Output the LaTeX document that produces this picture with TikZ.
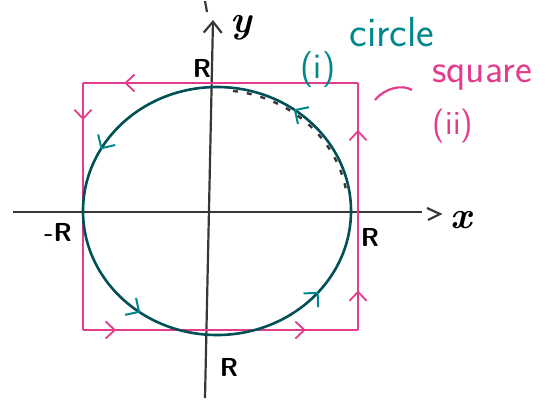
\documentclass[tikz,border=0pt]{standalone}
\usetikzlibrary{arrows.meta,decorations.markings}
\definecolor{circcol}{RGB}{0,80,85}
\definecolor{labcol}{RGB}{0,135,140}
\definecolor{sqcol}{RGB}{228,60,140}
\definecolor{axcol}{RGB}{55,55,55}
\tikzset{
  axis/.style={draw=axcol, line width=2.2pt},
  sqline/.style={draw=sqcol, line width=2.2pt},
  circline/.style={draw=circcol, line width=2.6pt},
  lbl/.style={text=black, font=\sffamily\bfseries\fontsize{26}{26}\selectfont, inner sep=0pt},
  sqmark/.style={postaction={decorate}, decoration={markings,
     mark=at position #1 with {\arrow[sqcol, line width=1.8pt]{Straight Barb[length=9pt,width=17pt]}}}}
}
\begin{document}
\begin{tikzpicture}[x=1pt,y=-1pt]
\useasboundingbox (0,0) rectangle (553,402);
% axes
\draw[axis] (13,212) -- (422,212);
\draw[axis] (427,208) -- (440,214) -- (428,220);
\draw[axis, -{Straight Barb[length=11pt,width=18pt]}] (205,398) -- (213,20);
\draw[axis] (205,1) -- (207,12);
% square
\coordinate (s1) at (358,83);
\coordinate (s2) at (83,83);
\coordinate (s3) at (83,330);
\coordinate (s4) at (358,330);
\draw[sqline, sqmark=0.85] (s1) -- (s2);
\draw[sqline, sqmark=0.15] (s2) -- (s3);
\draw[sqline, postaction={decorate}, decoration={markings,
   mark=at position 0.12 with {\arrow[sqcol, line width=1.8pt]{Straight Barb[length=9pt,width=17pt]}},
   mark=at position 0.81 with {\arrow[sqcol, line width=1.8pt]{Straight Barb[length=9pt,width=17pt]}}}] (s3) -- (s4);
\draw[sqline, postaction={decorate}, decoration={markings,
   mark=at position 0.16 with {\arrow[sqcol, line width=1.8pt]{Straight Barb[length=9pt,width=17pt]}},
   mark=at position 0.81 with {\arrow[sqcol, line width=1.8pt]{Straight Barb[length=9pt,width=17pt]}}}] (s4) -- (s1);
% circle
\coordinate (c0) at (217,211);
\draw[circline, postaction={decorate}, decoration={markings,
   mark=at position 0.15 with {\arrow[labcol, line width=2pt]{Straight Barb[length=10pt,width=20pt]}},
   mark=at position 0.42 with {\arrow[labcol, line width=2pt]{Straight Barb[length=10pt,width=20pt]}},
   mark=at position 0.65 with {\arrow[labcol, line width=2pt]{Straight Barb[length=10pt,width=20pt]}},
   mark=at position 0.89 with {\arrow[labcol, line width=2pt]{Straight Barb[length=10pt,width=20pt]}}}]
   (c0) ++(0:134 and 124) arc[start angle=0, end angle=-360, x radius=134, y radius=124];
% dashed arc
\draw[axis, line width=2.4pt, dash pattern=on 5pt off 9pt] (c0) ++(-83:131 and 121) arc[start angle=-83, end angle=-10, x radius=131, y radius=121];
% leader
\coordinate (l1) at (375,100);
\coordinate (l2) at (412,90);
\draw[sqline] (l1) .. controls (385,88) and (402,84) .. (l2);
% labels
\node[lbl] (rtop) at (202,68) {R};
\node[lbl] (rright) at (370,237) {R};
\node[lbl] (rleft) at (58,232) {-R};
\node[lbl] (rbot) at (229,367) {R};
\node[lbl, font=\itshape\bfseries\fontsize{38}{38}\selectfont] (xl) at (461,220) {x};
\node[lbl, font=\itshape\bfseries\fontsize{38}{38}\selectfont] (yl) at (241,28) {y};
\node[lbl, text=labcol, font=\sffamily\fontsize{42}{42}\selectfont] (circ) at (392,32) {circle};
\node[lbl, text=labcol, font=\sffamily\fontsize{36}{36}\selectfont] (ci) at (318,70) {(i)};
\node[lbl, text=sqcol, font=\sffamily\fontsize{40}{40}\selectfont] (sqr) at (482,78) {square};
\node[lbl, text=sqcol, font=\sffamily\fontsize{34}{34}\selectfont] (sii) at (453,126) {(ii)};
\end{tikzpicture}
\end{document}
